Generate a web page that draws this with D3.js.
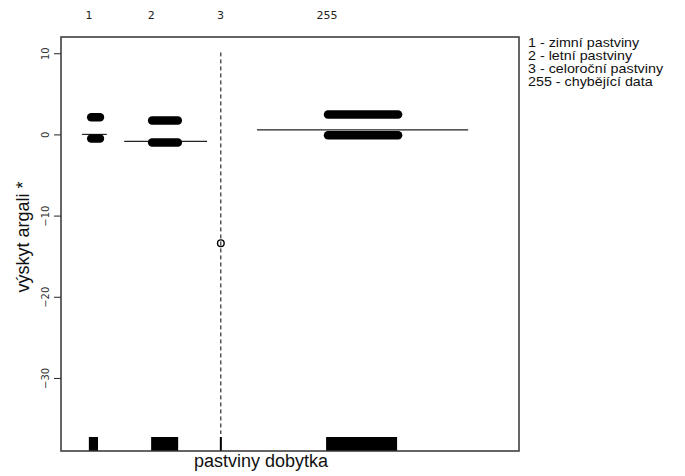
<!DOCTYPE html>
<html>
<head>
<meta charset="utf-8">
<script src="https://cdn.jsdelivr.net/npm/d3@7"></script>
<style>
  body { margin: 0; background: #fff; }
  text { font-family: "Liberation Sans", Arial, sans-serif; }
</style>
</head>
<body>
<div id="vis"></div>
<script>
const FRAME_WIDTH = 685;
const FRAME_HEIGHT = 476;
const MARGINS = {left: 61, right: 166, top: 37, bottom: 25};

const VIS_WIDTH = FRAME_WIDTH - MARGINS.left - MARGINS.right;
const VIS_HEIGHT = FRAME_HEIGHT - MARGINS.top - MARGINS.bottom;

// factor levels and where their labels sit on the (hidden) x axis
const levels = ["1", "2", "3", "255"];
const levelPos = [6.1, 19.7, 34.8, 58.1];

// fitted term per level and the horizontal extent of each fitted segment
const fitValue = [0.0, -0.86, -13.4, 0.55];
const fitFrom = [4.6, 13.8, 34.9, 42.8];
const fitTo = [10.0, 31.9, 34.9, 88.9];

// standard error band (only visible for level 3)
const seLevel = ["3"];
const seX = [34.9];
const seUpper = [10.1];
const seLower = [-36.9];

// partial residual clusters (jittered points overlap into bars)
const clusterLevel = ["1", "1", "2", "2", "255", "255"];
const clusterValue = [2.1, -0.5, 1.7, -1.0, 2.45, -0.1];
const clusterFrom = [6.6, 6.6, 19.9, 19.9, 58.3, 58.3];
const clusterTo = [8.5, 8.5, 25.5, 25.5, 73.6, 73.6];

// single observation of level 3
const singleX = [34.9];
const singleValue = [-13.4];

// rug extents
const rugFrom = [6.3, 19.9, 34.9, 58.1];
const rugTo = [8.3, 25.8, 34.9, 73.6];

const yTicks = [10, 0, -10, -20, -30];

const legendLines = [
  "1 - zimní pastviny",
  "2 - letní pastviny",
  "3 - celoroční pastviny",
  "255 - chybějící data"
];

const svg = d3.select("#vis")
  .append("svg")
    .attr("width", FRAME_WIDTH)
    .attr("height", FRAME_HEIGHT);

const FRAME = svg.append("g")
    .attr("transform", "translate(" + MARGINS.left + "," + MARGINS.top + ")");

const x = d3.scaleLinear().domain([0, 100]).range([0, VIS_WIDTH]);
const y = d3.scaleLinear().domain([-39, 12]).range([VIS_HEIGHT, 0]);

FRAME.append("clipPath").attr("id", "clip")
  .append("rect").attr("width", VIS_WIDTH).attr("height", VIS_HEIGHT);

const plot = FRAME.append("g").attr("clip-path", "url(#clip)");

// y axis
const yAxis = FRAME.append("g")
  .call(d3.axisLeft(y).tickValues(yTicks).tickSize(7).tickFormat(d3.format("d")));
yAxis.select(".domain").remove();
yAxis.selectAll("line").attr("stroke", "#222");
yAxis.selectAll("text")
  .attr("transform", "rotate(-90)")
  .attr("x", 0).attr("y", -12)
  .attr("dy", 0)
  .style("text-anchor", "middle")
  .style("font-family", "DejaVu Sans, sans-serif")
  .style("font-size", "10px")
  .attr("fill", "#333");

// level labels above the plot
FRAME.append("g")
  .selectAll("text")
  .data(levels)
  .enter()
  .append("text")
    .attr("x", (d, i) => x(levelPos[i]))
    .attr("y", -18)
    .attr("text-anchor", "middle")
    .style("font-family", "DejaVu Sans, sans-serif")
    .style("font-size", "11px")
    .attr("fill", "#222")
    .text(d => d);

// fitted segments
plot.selectAll(".fit")
  .data(levels)
  .enter()
  .append("line")
    .attr("x1", (d, i) => x(fitFrom[i]))
    .attr("x2", (d, i) => x(fitTo[i]))
    .attr("y1", (d, i) => y(fitValue[i]))
    .attr("y2", (d, i) => y(fitValue[i]))
    .attr("stroke", "#222")
    .attr("stroke-width", 1.2);

// se band
plot.selectAll(".se")
  .data(seLevel)
  .enter()
  .append("line")
    .attr("x1", (d, i) => x(seX[i]))
    .attr("x2", (d, i) => x(seX[i]))
    .attr("y1", (d, i) => y(seUpper[i]))
    .attr("y2", (d, i) => y(seLower[i]))
    .attr("stroke", "#000")
    .attr("stroke-width", 1)
    .attr("stroke-dasharray", "4,3");

// residual clusters
plot.selectAll(".cluster")
  .data(clusterLevel)
  .enter()
  .append("line")
    .attr("x1", (d, i) => x(clusterFrom[i]))
    .attr("x2", (d, i) => x(clusterTo[i]))
    .attr("y1", (d, i) => y(clusterValue[i]))
    .attr("y2", (d, i) => y(clusterValue[i]))
    .attr("stroke", "#000")
    .attr("stroke-width", 8.5)
    .attr("stroke-linecap", "round");

// single point
plot.selectAll(".single")
  .data(singleX)
  .enter()
  .append("circle")
    .attr("cx", d => x(d))
    .attr("cy", (d, i) => y(singleValue[i]))
    .attr("r", 3.3)
    .attr("fill", "none")
    .attr("stroke", "#000")
    .attr("stroke-width", 1.4);

// rug
const RUG = 14;
plot.selectAll(".rug")
  .data(levels)
  .enter()
  .append("rect")
    .attr("x", (d, i) => x(rugFrom[i]) - 1)
    .attr("width", (d, i) => Math.max(2, x(rugTo[i]) - x(rugFrom[i])))
    .attr("y", VIS_HEIGHT - RUG)
    .attr("height", RUG)
    .attr("fill", "#000");

// box
FRAME.append("rect")
  .attr("width", VIS_WIDTH)
  .attr("height", VIS_HEIGHT)
  .attr("fill", "none")
  .attr("stroke", "#333")
  .attr("stroke-width", 1.5);

// axis titles
svg.append("text")
  .attr("transform", "translate(29,237) rotate(-90)")
  .attr("text-anchor", "middle")
  .style("font-size", "18px")
  .attr("fill", "#111")
  .text("výskyt argali *");

svg.append("text")
  .attr("x", 261)
  .attr("y", 467)
  .attr("text-anchor", "middle")
  .style("font-size", "18px")
  .attr("fill", "#111")
  .text("pastviny dobytka");

// legend text (the reference is slightly stretched horizontally)
svg.append("g")
  .attr("transform", "translate(528,0) scale(1.1,1)")
  .selectAll("text")
  .data(legendLines)
  .enter()
  .append("text")
    .attr("x", 0)
    .attr("y", (d, i) => 47 + i * 13)
    .style("font-size", "13px")
    .attr("fill", "#111")
    .text(d => d);
</script>
</body>
</html>
